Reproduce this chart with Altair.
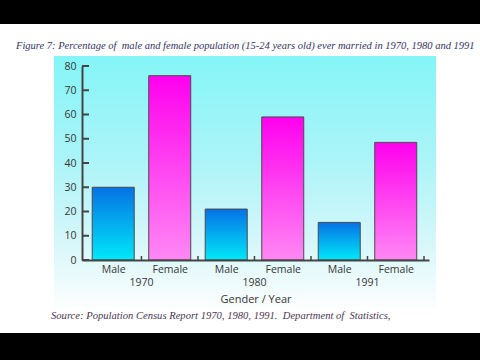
import altair as alt
import pandas as pd

# ---- data ----
genders = ["Male", "Female", "Male", "Female", "Male", "Female"]
years = ["1970", "1970", "1980", "1980", "1991", "1991"]
values = [30, 76, 21, 59, 15.5, 48.5]
year_labels = ["1970", "1980", "1991"]
y_ticks = [0, 10, 20, 30, 40, 50, 60, 70, 80]

title_text = "Figure 7: Percentage of\u00a0 male and female population (15-24 years old) ever married in 1970, 1980 and 1991"
source_text = "Source: Population Census Report 1970, 1980, 1991.\u00a0 Department of\u00a0 Statistics,"

df = pd.DataFrame({"gender": genders, "year": years, "value": values})
df["pos"] = range(len(df))
yr = df.groupby("year", as_index=False)["pos"].mean()
bounds = pd.DataFrame({"b": [p + 0.5 for p in df["pos"]]})
yt = pd.DataFrame({"t": y_ticks})

W, H = 347, 194
AX = "#444444"
LBL = "#353535"
SANS = "Open Sans"

one = pd.DataFrame({"k": [0]})

xscale = alt.Scale(domain=[-0.464, 5.5], nice=False, zero=False)
yscale = alt.Scale(domain=[0, 80], nice=False)

white = alt.Chart(one).mark_rect(color="white").encode(
    x=alt.value(-82), x2=alt.value(398), y=alt.value(-42), y2=alt.value(267)
)

panel_grad = alt.LinearGradient(
    gradient="linear",
    stops=[
        alt.GradientStop(color="#84f5f7", offset=0),
        alt.GradientStop(color="#aaf4f8", offset=0.4),
        alt.GradientStop(color="#d8f7fa", offset=0.75),
        alt.GradientStop(color="#fdfefe", offset=1),
    ],
    x1=0, x2=0, y1=0, y2=1,
)
panel = alt.Chart(one).mark_rect(color=panel_grad).encode(
    x=alt.value(-28), x2=alt.value(354), y=alt.value(-10), y2=alt.value(243)
)

male_grad = alt.LinearGradient(
    gradient="linear",
    stops=[alt.GradientStop(color="#0572e6", offset=0),
           alt.GradientStop(color="#00e8f8", offset=1)],
    x1=0, x2=0, y1=0, y2=1,
)
female_grad = alt.LinearGradient(
    gradient="linear",
    stops=[alt.GradientStop(color="#ff00ee", offset=0),
           alt.GradientStop(color="#ff88f4", offset=1)],
    x1=0, x2=0, y1=0, y2=1,
)

xaxis = alt.Axis(
    values=list(df["pos"]),
    labelExpr="['Male','Female'][datum.value % 2]",
    ticks=False, grid=False, zindex=1,
    domainColor=AX, domainWidth=2,
    labelColor=LBL, labelFont=SANS, labelFontSize=10.5, labelPadding=4,
    title="Gender / Year", titleColor=LBL, titleFont=SANS, titleFontSize=11,
    titleFontWeight="normal", titlePadding=19,
)
yaxis = alt.Axis(
    values=y_ticks, ticks=False, grid=False, zindex=1,
    domainColor=AX, domainWidth=2,
    labelColor=LBL, labelFont=SANS, labelFontSize=10.5, labelPadding=6,
    title=None,
)

base = alt.Chart(df)
male = base.transform_filter("datum.gender == 'Male'").mark_bar(
    size=42, color=male_grad, stroke="#4a4a4a", strokeWidth=1
).encode(
    x=alt.X("pos:Q", scale=xscale, axis=xaxis),
    y=alt.Y("value:Q", scale=yscale, axis=yaxis),
)
female = base.transform_filter("datum.gender == 'Female'").mark_bar(
    size=42, color=female_grad, stroke="#4a4a4a", strokeWidth=1
).encode(
    x=alt.X("pos:Q", scale=xscale, axis=xaxis),
    y=alt.Y("value:Q", scale=yscale, axis=yaxis),
)

xticks = alt.Chart(bounds).mark_rule(color=AX, strokeWidth=1.5).encode(
    x=alt.X("b:Q", scale=xscale, axis=xaxis), y=alt.value(H), y2=alt.value(H - 4)
)
yticks = alt.Chart(yt).mark_rule(color=AX, strokeWidth=2).encode(
    y=alt.Y("t:Q", scale=yscale, axis=yaxis), x=alt.value(0), x2=alt.value(7)
)

year_text = alt.Chart(yr).mark_text(
    font=SANS, fontSize=10.5, color=LBL, baseline="middle"
).encode(
    x=alt.X("pos:Q", scale=xscale, axis=xaxis), y=alt.value(H + 23), text="year:N"
)

title = alt.Chart(pd.DataFrame({"t": [title_text]})).mark_text(
    font="Liberation Serif", fontStyle="italic", fontSize=10.5,
    color="#33335f", align="left", baseline="middle"
).encode(x=alt.value(-66), y=alt.value(-20), text="t:N")

source = alt.Chart(pd.DataFrame({"t": [source_text]})).mark_text(
    font="Liberation Serif", fontStyle="italic", fontSize=10.6,
    color="#4b3553", align="left", baseline="middle"
).encode(x=alt.value(-31), y=alt.value(250), text="t:N")

chart = alt.layer(
    white, panel, male, female, xticks, yticks, year_text, title, source
).properties(
    width=W, height=H,
    padding={"left": 82, "top": 66, "right": 51, "bottom": 100},
    autosize=alt.AutoSizeParams(type="none"),
    background="black",
).configure_view(strokeWidth=0)

chart.save("out.html", embed_options={"renderer": "svg", "actions": False})
